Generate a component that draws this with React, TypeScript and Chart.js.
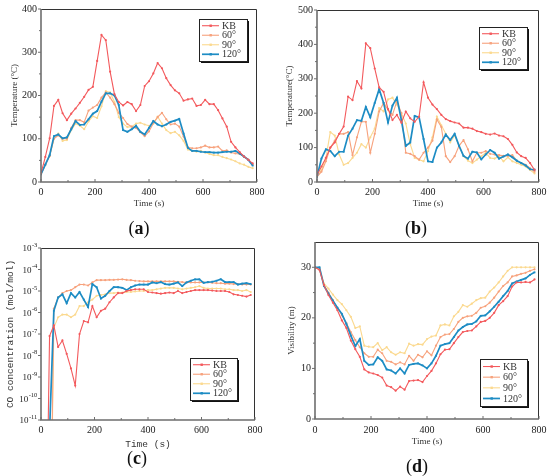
import { useEffect, useRef } from 'react';
import { Chart, registerables } from 'chart.js';

Chart.register(...registerables);

// time axis shared by all four panels (s)
const TIME = [0, 16, 32, 48, 64, 80, 96, 112, 128, 144, 160, 176, 192, 208, 224, 240, 256, 272, 288, 304, 320, 336, 352, 368, 384, 400, 416, 432, 448, 464, 480, 496, 512, 528, 544, 560, 576, 592, 608, 624, 640, 656, 672, 688, 704, 720, 736, 752, 768, 784];
const X_TICKS = [0, 200, 400, 600, 800];
const X_MINOR = [100, 300, 500, 700];
const LABELS = ['KB', '60°', '90°', '120°'];
const COLORS = ['#f3595c', '#f7a27d', '#fbd98f', '#1d8cc4'];
const WIDTHS = [1.1, 1.1, 1.1, 1.7];
const ORDER = [0, 2, 3, 1];

// (a) temperature
const A_KB = [20, 58, 101, 176, 190, 159, 143, 158, 170, 183, 197, 213, 220, 280, 340, 328, 255, 203, 185, 177, 185, 180, 164, 178, 222, 233, 251, 275, 263, 240, 224, 212, 205, 188, 191, 193, 176, 178, 190, 180, 180, 166, 147, 128, 93, 80, 69, 59, 51, 43];
const A_60 = [18, 40, 60, 100, 108, 100, 100, 125, 143, 143, 138, 165, 172, 178, 195, 207, 195, 180, 160, 148, 134, 128, 125, 115, 106, 117, 136, 150, 160, 145, 133, 135, 128, 105, 80, 78, 78, 80, 84, 80, 80, 82, 72, 73, 68, 66, 65, 58, 52, 40];
const A_90 = [18, 40, 60, 100, 112, 95, 97, 120, 135, 130, 122, 140, 152, 148, 175, 210, 207, 185, 150, 135, 127, 128, 135, 137, 133, 130, 135, 151, 135, 120, 113, 116, 108, 95, 75, 72, 70, 72, 68, 65, 62, 62, 58, 55, 52, 48, 43, 40, 35, 32];
const A_120 = [18, 40, 62, 106, 110, 101, 103, 122, 141, 132, 133, 145, 158, 164, 186, 205, 205, 200, 178, 120, 116, 122, 130, 116, 110, 125, 141, 133, 129, 133, 139, 142, 146, 112, 79, 72, 72, 70, 69, 69, 68, 68, 69, 70, 70, 72, 66, 59, 51, 38];
const A_Y_TICKS = [0, 100, 200, 300, 400];
const A_Y_MINOR = [50, 150, 250, 350];

// (b) temperature
const B_KB = [20, 45, 70, 100, 115, 140, 161, 248, 238, 293, 272, 403, 389, 330, 275, 262, 212, 180, 195, 172, 205, 185, 175, 190, 290, 245, 225, 212, 195, 183, 177, 173, 170, 158, 158, 155, 148, 145, 140, 138, 141, 135, 133, 125, 108, 86, 75, 70, 55, 35];
const B_60 = [15, 30, 60, 100, 120, 140, 140, 145, 78, 130, 175, 175, 85, 140, 205, 230, 210, 195, 235, 200, 85, 82, 75, 65, 85, 100, 120, 182, 160, 75, 58, 75, 105, 122, 95, 60, 85, 85, 90, 82, 80, 78, 76, 76, 78, 62, 55, 50, 40, 30];
const B_90 = [15, 35, 70, 145, 135, 80, 50, 55, 70, 85, 110, 100, 130, 155, 215, 205, 240, 245, 225, 200, 170, 110, 70, 65, 60, 90, 130, 190, 165, 140, 115, 135, 105, 75, 62, 55, 65, 75, 85, 70, 68, 75, 60, 72, 60, 55, 50, 45, 35, 25];
const B_120 = [15, 68, 95, 90, 75, 88, 88, 135, 155, 180, 178, 218, 188, 230, 270, 230, 173, 222, 245, 180, 105, 115, 192, 188, 125, 60, 58, 100, 115, 138, 122, 140, 105, 76, 68, 88, 86, 66, 80, 93, 85, 68, 74, 80, 72, 62, 55, 48, 37, 36];
const B_Y_TICKS = [0, 100, 200, 300, 400, 500];
const B_Y_MINOR = [50, 150, 250, 350, 450];

// (c) CO concentration, values below 1e-11 sit under the axis
const C_KB = [1e-20, 1e-20, 8e-8, 2.5e-7, 2.5e-8, 5e-8, 1.2e-8, 2.5e-9, 4e-10, 1e-7, 4e-7, 3.5e-7, 2e-6, 6e-7, 1.2e-6, 1.5e-6, 3e-6, 5e-6, 8e-6, 8e-6, 1e-5, 1.1e-5, 1.2e-5, 1.2e-5, 1.2e-5, 9e-6, 8.5e-6, 8e-6, 7.5e-6, 8e-6, 8.5e-6, 8e-6, 1e-5, 8e-6, 9e-6, 1e-5, 1.1e-5, 1.1e-5, 1.1e-5, 1.1e-5, 1.05e-5, 1e-5, 1e-5, 1e-5, 9e-6, 7e-6, 6.5e-6, 6e-6, 5.5e-6, 6.5e-6];
const C_60 = [1e-20, 1e-20, 1e-20, 1.5e-6, 5e-6, 8e-6, 1e-5, 1.1e-5, 1.5e-5, 2e-5, 2e-5, 1.8e-5, 2.5e-5, 3.2e-5, 3.2e-5, 3.2e-5, 3.3e-5, 3.3e-5, 3.4e-5, 3.5e-5, 3.3e-5, 3.2e-5, 3e-5, 2.9e-5, 2.8e-5, 2.8e-5, 2.8e-5, 2.8e-5, 2.8e-5, 2.8e-5, 2.8e-5, 2.8e-5, 2.7e-5, 2.6e-5, 2.5e-5, 2.5e-5, 2.5e-5, 2.5e-5, 2.5e-5, 2.5e-5, 2.4e-5, 2.3e-5, 2.3e-5, 2.2e-5, 2.2e-5, 2.1e-5, 2.1e-5, 2e-5, 2e-5, 2e-5];
const C_90 = [1e-20, 1e-20, 1e-20, 2e-7, 6e-7, 8e-7, 8e-7, 6e-7, 8e-7, 2e-6, 2e-6, 3e-6, 4e-6, 6e-6, 6.5e-6, 7e-6, 8e-6, 8e-6, 8.5e-6, 8.5e-6, 9e-6, 9e-6, 9.5e-6, 1e-5, 1e-5, 1.1e-5, 1.1e-5, 1.2e-5, 1.3e-5, 1.4e-5, 1.4e-5, 1.4e-5, 1.3e-5, 1.2e-5, 1.3e-5, 1.4e-5, 1.5e-5, 1.7e-5, 1.4e-5, 1.3e-5, 1.3e-5, 1.3e-5, 1.3e-5, 1.2e-5, 1.2e-5, 1.1e-5, 1.1e-5, 1e-5, 1.1e-5, 9e-6];
const C_120 = [1e-20, 1e-20, 3e-12, 1.2e-6, 5e-6, 7e-6, 2.7e-6, 8e-6, 5e-6, 9e-6, 4e-6, 1.8e-6, 2.1e-5, 1.5e-5, 4.5e-6, 6e-6, 1e-5, 1.5e-5, 1.5e-5, 1.4e-5, 1.1e-5, 1.5e-5, 1.8e-5, 2e-5, 2e-5, 2e-5, 2.5e-5, 2.3e-5, 2.6e-5, 2.1e-5, 2e-5, 2.2e-5, 2.5e-5, 1.7e-5, 2.5e-5, 3e-5, 3.5e-5, 3.5e-5, 2.4e-5, 2.6e-5, 2.7e-5, 3e-5, 3.5e-5, 2.6e-5, 2.6e-5, 2.6e-5, 2e-5, 2.2e-5, 2.3e-5, 2.1e-5];
const C_Y_TICKS = [1e-11, 1e-10, 1e-9, 1e-8, 1e-7, 1e-6, 1e-5, 1e-4, 1e-3];

// (d) visibility
const D_KB = [30, 29.5, 26.5, 24.5, 23, 21.5, 19.5, 18, 15.5, 13.8, 12.3, 9.8, 9.2, 9, 8.7, 8.2, 6.6, 6.3, 5.6, 6.4, 5.8, 7.5, 7.6, 7.7, 7.3, 8.5, 9.5, 11, 12.8, 13.7, 13.8, 15, 16.2, 17.2, 17.4, 17.5, 18.3, 19.2, 19.4, 20, 21, 22.5, 23.3, 24.3, 26.2, 27, 27, 27.1, 27, 27.6];
const D_60 = [30, 29.5, 26.5, 25, 23.5, 22, 20.5, 19, 17.2, 15.6, 14.2, 13, 12.3, 12.3, 13.7, 13, 11.5, 11.3, 10.8, 11.2, 10.8, 12.5, 11.5, 12.7, 12.2, 13.4, 12.6, 14.5, 16.2, 16.7, 16.8, 17.8, 19.2, 20, 20.3, 20.4, 21, 22, 22.3, 23, 24, 25.2, 26.3, 27, 28.2, 28.4, 28.7, 28.9, 29.3, 29.6];
const D_90 = [30, 29.8, 26.8, 25.8, 24.6, 23.5, 22.7, 21.5, 20.2, 18, 18.3, 14.5, 14.3, 14.2, 15, 13.6, 14.2, 13.2, 12.7, 13.2, 13, 14.9, 14.5, 14.8, 14.7, 15.8, 16.3, 16.5, 18.5, 18.7, 18.5, 20.3, 21.2, 22.5, 22.2, 22.8, 23.5, 23.9, 24, 25.2, 26, 27, 28.2, 29.3, 30, 30, 30, 30, 30, 30];
const D_120 = [30, 30, 26.3, 24.8, 23.4, 22, 20.8, 18.8, 16.5, 14.4, 15.8, 11.5, 10.7, 10.8, 12.2, 11.5, 9.8, 9.6, 9, 10, 9, 10.7, 10.9, 11, 10.6, 10, 11, 12.5, 14.5, 14.8, 15, 16.2, 17.5, 18.2, 18.7, 18.8, 19.3, 20.4, 20.5, 21.3, 22.2, 23.2, 24.3, 25.3, 26.8, 27.2, 27.5, 27.8, 28.5, 29];
const D_Y_TICKS = [0, 10, 20, 30];
const D_Y_MINOR = [5, 15, 25];

const SERIF = "'Liberation Serif', 'DejaVu Serif', serif";
const MONO = "'Liberation Mono', 'DejaVu Sans Mono', monospace";
const W = 275;
const H = 238;

const framePlugin = {
  id: 'frame',
  afterDraw(chart: any, _args: any, o: any) {
    const { ctx, chartArea: a } = chart;
    const xs = chart.scales.x;
    const ys = chart.scales.y;
    ctx.save();
    ctx.strokeStyle = '#333';
    ctx.lineWidth = 1;
    ctx.beginPath();
    ctx.moveTo(a.left, a.top + 0.5);
    ctx.lineTo(a.right - 0.5, a.top + 0.5);
    ctx.lineTo(a.right - 0.5, a.bottom);
    ctx.stroke();
    ctx.strokeStyle = '#6e6e6e';
    ctx.lineWidth = 1.6;
    ctx.beginPath();
    ctx.moveTo(a.left, a.top);
    ctx.lineTo(a.left, a.bottom);
    ctx.lineTo(a.right, a.bottom);
    ctx.stroke();
    ctx.lineWidth = 1;
    ctx.beginPath();
    const xt = (vals: number[], len: number) => vals.forEach((v) => {
      const p = xs.getPixelForValue(v);
      ctx.moveTo(p, a.bottom);
      ctx.lineTo(p, a.bottom - len);
    });
    const yt = (vals: number[], len: number) => vals.forEach((v) => {
      const p = ys.getPixelForValue(v);
      ctx.moveTo(a.left, p);
      ctx.lineTo(a.left - len, p);
    });
    xt(X_TICKS, 3);
    xt(X_MINOR, 2);
    yt(o.yMajor, 3);
    yt(o.yMinor, 2);
    ctx.stroke();

    // log labels as 10 with a raised exponent
    if (o.logY) {
      ctx.fillStyle = '#222';
      ctx.textBaseline = 'middle';
      ctx.textAlign = 'left';
      o.yMajor.forEach((v: number) => {
        const p = ys.getPixelForValue(v);
        const exp = String(Math.round(Math.log10(v)));
        ctx.font = `6.5px ${SERIF}`;
        const we = ctx.measureText(exp).width;
        ctx.font = `9px ${SERIF}`;
        const wb = ctx.measureText('10').width;
        const x0 = a.left - 4 - we - wb;
        ctx.fillText('10', x0, p + 1);
        ctx.font = `6.5px ${SERIF}`;
        ctx.fillText(exp, x0 + wb + 0.3, p - 3);
      });
    }

    // legend box with drop shadow
    const { x, y, w, h } = o.legend;
    ctx.fillStyle = '#111';
    ctx.fillRect(x + 2, y + 2, w, h);
    ctx.fillStyle = '#fff';
    ctx.fillRect(x, y, w, h);
    ctx.strokeStyle = '#222';
    ctx.lineWidth = 1;
    ctx.strokeRect(x + 0.5, y + 0.5, w, h);
    const first = h * 0.16;
    const gap = (h - 2 * first) / 3;
    chart.data.datasets.forEach((ds: any, i: number) => {
      const ry = y + first + i * gap;
      ctx.strokeStyle = ds.borderColor;
      ctx.lineWidth = ds.borderWidth;
      ctx.beginPath();
      ctx.moveTo(x + 3, ry);
      ctx.lineTo(x + 20, ry);
      ctx.stroke();
      ctx.fillStyle = ds.borderColor;
      ctx.fillRect(x + 10.5, ry - 1.2, 2.4, 2.4);
      ctx.fillStyle = '#333';
      ctx.font = `10px ${SERIF}`;
      ctx.textBaseline = 'middle';
      ctx.textAlign = 'left';
      ctx.fillText(ds.label, x + 23, ry + 0.5);
    });
    ctx.restore();
  },
};

type Box = { x: number; y: number; w: number; h: number };
type PanelProps = {
  left: number;
  top: number;
  series: number[][];
  logY?: boolean;
  yMin: number;
  yMax: number;
  yMajor: number[];
  yMinor: number[];
  yTitle: string;
  titleFamily: string;
  titleSize: number;
  area: { l: number; r: number; t: number; b: number };
  xAxisH: number;
  xTickPad: number;
  xTitlePad: number;
  yTitleCenter: number;
  legend: Box;
  tag: string;
  tagX: number;
  tagY: number;
};

const Panel = (p: PanelProps) => {
  const ref = useRef<HTMLCanvasElement | null>(null);

  useEffect(() => {
    if (!ref.current) return;
    const lh = p.titleSize * 1.2;
    const chart = new Chart(ref.current, {
      type: 'line',
      data: {
        datasets: p.series.map((s, i) => ({
          label: LABELS[i],
          data: s.map((v, j) => ({ x: TIME[j], y: v })),
          borderColor: COLORS[i],
          backgroundColor: COLORS[i],
          borderWidth: WIDTHS[i],
          pointRadius: i === 3 ? 1.3 : 1.1,
          pointStyle: i === 3 ? 'rect' : 'circle',
          pointBorderWidth: 0,
          tension: 0,
          order: ORDER[i],
        })),
      },
      options: {
        animation: false,
        responsive: true,
        maintainAspectRatio: false,
        events: [],
        layout: {
          padding: { left: 0, top: p.area.t, right: W - p.area.r, bottom: H - p.area.b - p.xAxisH },
        },
        plugins: {
          legend: { display: false },
          tooltip: { enabled: false },
          // @ts-ignore
          frame: { yMajor: p.yMajor, yMinor: p.yMinor, legend: p.legend, logY: !!p.logY },
        },
        scales: {
          x: {
            type: 'linear',
            min: 0,
            max: 800,
            grid: { display: false, drawTicks: false },
            border: { display: false },
            afterBuildTicks: (s: any) => { s.ticks = X_TICKS.map((value) => ({ value })); },
            afterFit: (s: any) => { s.height = p.xAxisH; s.paddingLeft = 0; s.paddingRight = 0; },
            ticks: { padding: p.xTickPad, color: '#222', font: { family: SERIF, size: 10 }, maxRotation: 0, autoSkip: false },
            title: {
              display: true,
              text: 'Time (s)',
              color: '#333',
              font: { family: p.titleFamily, size: p.titleSize },
              padding: { top: 0, bottom: p.xTitlePad },
            },
          },
          y: {
            type: p.logY ? 'logarithmic' : 'linear',
            min: p.yMin,
            max: p.yMax,
            grid: { display: false, drawTicks: false },
            border: { display: false },
            afterBuildTicks: (s: any) => { s.ticks = p.yMajor.map((value) => ({ value })); },
            afterFit: (s: any) => { s.width = p.area.l; s.paddingTop = 0; s.paddingBottom = 0; },
            ticks: {
              padding: 4,
              color: '#222',
              font: { family: SERIF, size: 10 },
              autoSkip: false,
              callback: (v: any) => (p.logY ? '' : String(v)),
            },
            title: {
              display: true,
              text: p.yTitle,
              color: '#333',
              font: { family: p.titleFamily, size: p.titleSize },
              padding: { top: p.yTitleCenter - lh / 2, bottom: 0 },
            },
          },
        },
      },
      plugins: [framePlugin],
    } as any);

    return () => {
      chart.destroy();
    };
  }, []);

  return (
    <>
      <div style={{ position: 'absolute', left: p.left, top: p.top, width: W, height: H }}>
        <canvas ref={ref} style={{ display: 'block' }}></canvas>
      </div>
      <div
        style={{
          position: 'absolute',
          left: p.left + p.tagX - 30,
          top: p.top + p.tagY - 11,
          width: 60,
          height: 22,
          lineHeight: '22px',
          textAlign: 'center',
          fontFamily: SERIF,
          fontSize: 18,
          color: '#111',
        }}
      >
        (<b>{p.tag}</b>)
      </div>
    </>
  );
};

const App = () => {
  return (
    <div style={{ position: 'absolute', left: 0, top: 0, width: 550, height: 476, background: '#fff', overflow: 'hidden' }}>
      <Panel
        left={0} top={0}
        series={[A_KB, A_60, A_90, A_120]}
        yMin={0} yMax={400} yMajor={A_Y_TICKS} yMinor={A_Y_MINOR}
        yTitle="Temperature (°C)" titleFamily={SERIF} titleSize={9}
        area={{ l: 41, r: 257, t: 9, b: 182 }}
        xAxisH={30} xTickPad={4} xTitlePad={2.6} yTitleCenter={15}
        legend={{ x: 199, y: 19, w: 48, h: 42 }}
        tag="a" tagX={139} tagY={228}
      />
      <Panel
        left={275} top={0}
        series={[B_KB, B_60, B_90, B_120]}
        yMin={0} yMax={500} yMajor={B_Y_TICKS} yMinor={B_Y_MINOR}
        yTitle="Temperature(°C)" titleFamily={SERIF} titleSize={9}
        area={{ l: 42, r: 264, t: 10, b: 182 }}
        xAxisH={30} xTickPad={4} xTitlePad={2.6} yTitleCenter={15}
        legend={{ x: 204, y: 27, w: 48, h: 42 }}
        tag="b" tagX={141} tagY={228}
      />
      <Panel
        left={0} top={238}
        series={[C_KB, C_60, C_90, C_120]}
        logY yMin={1e-11} yMax={1e-3} yMajor={C_Y_TICKS} yMinor={[]}
        yTitle="CO concentration (mol/mol)" titleFamily={MONO} titleSize={9.5}
        area={{ l: 41, r: 255, t: 10, b: 182 }}
        xAxisH={32} xTickPad={4} xTitlePad={2.3} yTitleCenter={10}
        legend={{ x: 190, y: 120, w: 47, h: 42 }}
        tag="c" tagX={137} tagY={220}
      />
      <Panel
        left={275} top={238}
        series={[D_KB, D_60, D_90, D_120]}
        yMin={0} yMax={35} yMajor={D_Y_TICKS} yMinor={D_Y_MINOR}
        yTitle="Visibility (m)" titleFamily={SERIF} titleSize={9}
        area={{ l: 40, r: 264, t: 2, b: 181 }}
        xAxisH={30} xTickPad={5} xTitlePad={1.6} yTitleCenter={17}
        legend={{ x: 205, y: 121, w: 47, h: 47 }}
        tag="d" tagX={142} tagY={228}
      />
    </div>
  );
};

export default App;
